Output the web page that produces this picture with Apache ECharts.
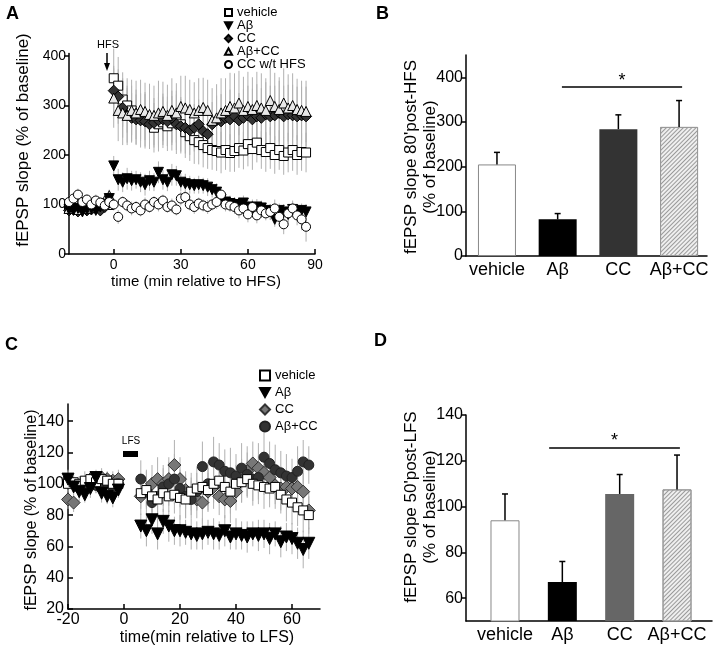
<!DOCTYPE html>
<html><head><meta charset="utf-8">
<script src="https://cdn.jsdelivr.net/npm/echarts@6/dist/echarts.min.js"></script>
<style>html,body{margin:0;padding:0;background:#fff}#c{width:720px;height:650px}</style>
</head><body><div id="c"></div>
<script>
// ---------- Panel A (HFS time course) ----------
const timeA = [-20,-18,-16,-14,-12,-10,-8,-6,-4,-2,0,2,4,6,8,10,12,14,16,18,20,22,24,26,28,30,32,34,36,38,40,42,44,46,48,50,52,54,56,58,60,62,64,66,68,70,72,74,76,78,80,82,84,86];
const vehicleA = [100,98,102,99,101,100,97,103,100,99,
  355,340,312,300,290,282,276,272,268,255,262,266,258,264,270,262,246,238,230,226,220,214,210,208,205,210,204,208,214,209,222,212,225,210,206,214,200,210,198,205,210,200,206,205];
const vehicleErrA = [12,10,12,10,11,10,12,10,11,10,
  60,58,55,55,50,50,48,55,52,50,55,52,50,55,60,55,52,50,48,45,45,42,40,40,42,40,38,42,40,38,45,42,40,38,40,42,38,40,38,40,42,40,38,40];
const abA = [90,88,92,85,90,92,88,95,100,112,
  178,150,145,152,148,150,145,140,148,145,165,150,145,160,158,145,142,140,138,140,138,135,130,125,110,105,102,100,98,103,95,92,95,93,88,85,70,88,85,80,90,85,88,85];
const abErrA = [8,8,8,8,8,8,8,8,10,10,
  20,22,20,22,20,18,20,22,20,18,22,20,18,22,20,18,20,18,16,18,16,18,16,18,16,15,16,15,16,15,14,15,16,15,14,16,15,14,16,15,14,15,14,16];
const ccA = [88,90,86,92,88,90,92,88,95,105,
  330,318,295,280,275,272,270,268,262,265,270,272,268,275,262,258,255,250,255,262,248,242,262,270,268,275,272,278,270,275,280,272,278,275,282,278,280,285,278,282,280,278,280,278];
const ccErrA = [10,10,10,10,10,10,10,10,12,12,
  50,55,60,55,50,50,55,55,50,50,55,52,50,55,60,55,52,50,48,50,45,42,45,50,55,55,60,60,55,58,60,62,65,60,65,62,60,65,62,60,62,60,58,60];
const abccA = [92,95,90,95,92,95,98,100,108,118,
  315,290,285,280,290,285,292,288,282,280,285,288,280,290,285,298,295,292,285,290,296,290,270,275,285,290,298,295,305,290,298,292,300,295,290,310,298,292,305,295,300,292,290,288];
const abccErrA = [10,10,12,10,10,12,10,12,12,12,
  60,62,65,60,62,65,60,58,62,60,65,60,62,65,60,62,65,60,62,65,60,62,65,68,70,65,68,70,65,68,70,65,68,70,65,70,68,65,70,68,65,62,60,62];
const ccNoHfsA = [105,112,120,105,110,100,108,104,98,105,
  100,75,105,98,92,95,88,100,95,105,100,108,95,98,90,112,115,100,95,102,98,95,100,105,120,100,98,95,88,92,80,95,78,88,82,85,92,75,60,82,92,78,70,55];
const ccNoHfsErrA = [10,10,12,10,10,10,12,10,10,10,
  12,14,12,12,14,12,12,14,12,12,14,12,12,14,12,14,12,12,14,12,12,14,12,14,12,14,12,14,16,14,16,15,16,15,14,16,18,16,20,18,16,20,22,30];

// ---------- Panel B (80' post-HFS) ----------
const barCats = ['vehicle','Aβ','CC','Aβ+CC'];
const barB = [205, 82, 284, 289];
const barErrB = [27, 13, 32, 59];

// ---------- Panel C (LFS time course) ----------
const timeC = [-20,-18,-16,-14,-12,-10,-8,-6,-4,-2,6,8,10,12,14,16,18,20,22,24,26,28,30,32,34,36,38,40,42,44,46,48,50,52,54,56,58,60,62,64,66];
const vehicleC = [100,101,100,102,103,101,103,102,100,100,
  94,96,92,90,94,92,93,91,90,95,97,98,96,100,102,98,95,100,101,103,100,99,98,97,98,93,90,88,85,83,80];
const vehicleErrC = [5,5,5,6,5,5,6,5,5,5,
  10,12,10,12,12,10,12,14,12,12,14,12,14,12,14,12,14,12,13,12,14,12,14,12,14,12,14,14,12,14,12];
const abC = [103,98,95,93,97,104,94,92,91,96,
  73,70,77,68,76,73,70,70,69,68,67,68,69,68,67,70,66,68,67,66,68,67,68,65,68,63,66,65,62,58,62];
const abErrC = [6,5,6,5,6,5,6,5,6,5,
  8,10,9,10,8,10,9,10,8,10,9,10,8,10,9,10,8,10,9,10,8,10,9,10,8,10,9,10,10,12,10];
const ccC = [90,88,97,99,103,100,104,103,102,103,
  92,95,100,103,100,103,112,103,96,92,90,88,95,98,92,90,89,95,102,108,113,110,107,104,99,97,98,97,98,95,83];
const ccErrC = [6,6,6,6,5,6,6,5,6,6,
  12,14,12,14,12,14,16,14,12,12,12,14,12,14,12,12,14,12,14,16,14,16,14,14,12,14,12,12,14,12,12];
const abccC = [103,100,98,100,102,99,97,100,98,100,
  103,95,88,92,98,100,103,97,92,90,95,111,100,114,112,108,107,105,110,106,103,104,117,113,109,107,105,104,108,114,112];
const abccErrC = [5,5,5,5,5,5,5,5,5,5,
  12,10,12,14,12,14,16,12,14,12,12,16,14,16,14,14,16,14,16,14,14,14,16,14,16,14,14,12,16,14,12];

// ---------- Panel D (50' post-LFS) ----------
const barD = [94, 67, 105.5, 107.5];
const barErrD = [11.5, 9, 8.5, 15];

// ---------- tick labels ----------
const ticksAx = [0, 30, 60, 90];
const ticksAy = [0, 100, 200, 300, 400];
const ticksBy = [0, 100, 200, 300, 400];
const ticksCx = [-20, 0, 20, 40, 60];
const ticksCy = [20, 40, 60, 80, 100, 120, 140];
const ticksDy = [60, 80, 100, 120, 140];

const FONT = 'Liberation Sans, Arial, sans-serif';
const DOWN = 'path://M0,0 L10,0 L5,9 Z';
const UP = 'path://M5,0 L10,9 L0,9 Z';

function pts(t, v, e) { return t.map((x, i) => [x, v[i], e[i]]); }
function errRender(color) {
  return function (params, api) {
    const x = api.value(0), y = api.value(1), e = api.value(2);
    const lo = api.coord([x, y - e]), hi = api.coord([x, y + e]);
    return { type: 'line', shape: { x1: lo[0], y1: lo[1], x2: hi[0], y2: hi[1] }, style: { stroke: color, lineWidth: 1 } };
  };
}
function barErrRender(params, api) {
  const x = api.value(0), y = api.value(1), e = api.value(2);
  const lo = api.coord([x, y]), hi = api.coord([x, y + e]);
  return { type: 'group', children: [
    { type: 'line', shape: { x1: lo[0], y1: lo[1], x2: hi[0], y2: hi[1] }, style: { stroke: '#000', lineWidth: 1.5 } },
    { type: 'line', shape: { x1: hi[0] - 3, y1: hi[1], x2: hi[0] + 3, y2: hi[1] }, style: { stroke: '#000', lineWidth: 1.5 } }
  ]};
}
function axis(o) {
  return {
    type: 'value', gridIndex: o.grid, min: o.min, max: o.max,
    axisLine: { onZero: false, lineStyle: { color: '#000', width: 1.5 } },
    axisTick: o.ticks ? { show: true, inside: !!o.inside, length: 5, lineStyle: { color: '#000', width: 1.5 }, customValues: o.ticks } : { show: false },
    axisLabel: o.cats
      ? { color: '#000', fontFamily: FONT, fontSize: o.fs, margin: 5, customValues: [1, 2, 3, 4], formatter: v => barCats[Math.round(v) - 1] || '' }
      : { color: '#000', fontFamily: FONT, fontSize: o.fs, margin: o.margin == null ? 3 : o.margin, customValues: o.ticks },
    splitLine: { show: false }
  };
}

const hatch = { symbol: 'rect', symbolSize: 1, dashArrayX: [1, 0], dashArrayY: [1, 2], rotation: -Math.PI / 4, color: '#9a9a9a' };

const scatterA = [
  { name: 'vehicle', v: vehicleA, e: vehicleErrA, symbol: 'rect', size: 9, color: '#fff', border: '#000' },
  { name: 'CC', v: ccA, e: ccErrA, symbol: 'diamond', size: 11, color: '#333', border: '#000' },
  { name: 'Aβ+CC', v: abccA, e: abccErrA, symbol: UP, size: 10, color: '#e8e8e8', border: '#000' },
  { name: 'Aβ', v: abA, e: abErrA, symbol: DOWN, size: 10, color: '#000', border: '#000' },
  { name: 'CC w/t HFS', v: ccNoHfsA, e: ccNoHfsErrA, symbol: 'circle', size: 9, color: '#fff', border: '#000' }
];
const scatterC = [
  { name: 'CC ', v: ccC, e: ccErrC, symbol: 'diamond', size: 13, color: '#777', border: '#333' },
  { name: 'Aβ+CC ', v: abccC, e: abccErrC, symbol: 'circle', size: 10, color: '#333', border: '#222' },
  { name: 'vehicle ', v: vehicleC, e: vehicleErrC, symbol: 'rect', size: 9, color: '#fff', border: '#000' },
  { name: 'Aβ ', v: abC, e: abErrC, symbol: DOWN, size: 12, color: '#000', border: '#000' }
];

const series = [];
function addScatter(list, t, idx) {
  list.forEach(s => series.push({ type: 'custom', xAxisIndex: idx, yAxisIndex: idx, silent: true, z: 1,
    renderItem: errRender('#b0b0b0'), encode: { x: 0, y: 1 }, data: pts(t, s.v, s.e) }));
  list.forEach(s => series.push({ type: 'scatter', name: s.name, xAxisIndex: idx, yAxisIndex: idx, z: 3,
    symbol: s.symbol, symbolSize: s.size, data: pts(t, s.v, s.e),
    itemStyle: { color: s.color, borderColor: s.border, borderWidth: 1, opacity: 1 } }));
}
addScatter(scatterA, timeA, 0);
addScatter(scatterC, timeC, 2);

function addBars(vals, errs, idx, width, styles, sig) {
  series.push({ type: 'bar', xAxisIndex: idx, yAxisIndex: idx, barWidth: width, z: 2,
    data: vals.map((v, i) => ({ value: [i + 1, v], itemStyle: styles[i] })),
    markLine: { silent: true, symbol: ['none', 'none'], lineStyle: { color: '#000', width: 1.5, type: 'solid' },
      label: { show: true, position: 'middle', formatter: '*', color: '#000', fontSize: 18, fontFamily: FONT, distance: -3 },
      data: [[{ coord: [sig[0], sig[2]] }, { coord: [sig[1], sig[2]] }]] } });
  series.push({ type: 'custom', xAxisIndex: idx, yAxisIndex: idx, silent: true, z: 3, renderItem: barErrRender,
    encode: { x: 0, y: 1 }, data: vals.map((v, i) => [i + 1, v, errs[i]]) });
}
addBars(barB, barErrB, 1, 38, [
  { color: '#fff', borderColor: '#888', borderWidth: 1 },
  { color: '#000' },
  { color: '#333' },
  { color: '#efefef', borderColor: '#999', borderWidth: 1, decal: hatch }
], [2.07, 4.05, 378]);
addBars(barD, barErrD, 3, 29, [
  { color: '#fff', borderColor: '#888', borderWidth: 1 },
  { color: '#000' },
  { color: '#666' },
  { color: '#efefef', borderColor: '#999', borderWidth: 1, decal: hatch }
], [1.77, 4.05, 125.8]);

const option = {
  animation: false,
  backgroundColor: '#fff',
  grid: [
    { left: 69, top: 53.5, width: 246, height: 200.5 },
    { left: 466, top: 55, width: 241, height: 201 },
    { left: 68, top: 404, width: 252, height: 205 },
    { left: 466, top: 415, width: 246, height: 206 }
  ],
  xAxis: [
    axis({ grid: 0, min: -20, max: 90, ticks: ticksAx, inside: true, fs: 14, margin: 4 }),
    axis({ grid: 1, min: 0.49, max: 4.46, cats: true, fs: 18 }),
    axis({ grid: 2, min: -20, max: 70, ticks: ticksCx, inside: true, fs: 16, margin: 3 }),
    axis({ grid: 3, min: 0.32, max: 4.61, cats: true, fs: 18 })
  ],
  yAxis: [
    axis({ grid: 0, min: 0, max: 405, ticks: ticksAy, fs: 14 }),
    axis({ grid: 1, min: 0, max: 450, ticks: ticksBy, fs: 16 }),
    axis({ grid: 2, min: 20, max: 151, ticks: ticksCy, inside: true, fs: 16, margin: 4 }),
    axis({ grid: 3, min: 50, max: 140, ticks: ticksDy, fs: 16 })
  ],
  legend: [
    { orient: 'vertical', left: 224, top: 6, itemWidth: 7, itemHeight: 7, itemGap: 0, selectedMode: false, padding: 0,
      textStyle: { fontFamily: FONT, fontSize: 13, color: '#000', lineHeight: 13 },
      data: ['vehicle', 'Aβ', 'CC', 'Aβ+CC', 'CC w/t HFS'] },
    { orient: 'vertical', left: 259, top: 369, itemWidth: 10, itemHeight: 10, itemGap: 4, selectedMode: false, padding: 0,
      textStyle: { fontFamily: FONT, fontSize: 13, color: '#000', lineHeight: 13 },
      formatter: n => n.trim(),
      data: ['vehicle ', 'Aβ ', 'CC ', 'Aβ+CC '] }
  ],
  graphic: [
    { type: 'text', left: 6, top: 5, style: { text: 'A', font: 'bold 18px ' + FONT, fill: '#000' } },
    { type: 'text', left: 376, top: 5, style: { text: 'B', font: 'bold 18px ' + FONT, fill: '#000' } },
    { type: 'text', left: 5, top: 336, style: { text: 'C', font: 'bold 18px ' + FONT, fill: '#000' } },
    { type: 'text', left: 374, top: 332, style: { text: 'D', font: 'bold 18px ' + FONT, fill: '#000' } },
    // axis titles
    { type: 'text', x: 23, y: 140, rotation: Math.PI / 2, style: { text: 'fEPSP slope (% of baseline)', font: '17px ' + FONT, fill: '#000', align: 'center', verticalAlign: 'middle' } },
    { type: 'text', x: 196, y: 282, style: { text: 'time (min relative to HFS)', font: '15px ' + FONT, fill: '#000', align: 'center', verticalAlign: 'middle' } },
    { type: 'text', x: 411, y: 157, rotation: Math.PI / 2, style: { text: "fEPSP slope 80'post-HFS", font: '17px ' + FONT, fill: '#000', align: 'center', verticalAlign: 'middle' } },
    { type: 'text', x: 430, y: 157, rotation: Math.PI / 2, style: { text: '(% of baseline)', font: '17px ' + FONT, fill: '#000', align: 'center', verticalAlign: 'middle' } },
    { type: 'text', x: 32, y: 510, rotation: Math.PI / 2, style: { text: 'fEPSP slope (% of baseline)', font: '16px ' + FONT, fill: '#000', align: 'center', verticalAlign: 'middle' } },
    { type: 'text', x: 207, y: 638, style: { text: 'time(min relative to LFS)', font: '16px ' + FONT, fill: '#000', align: 'center', verticalAlign: 'middle' } },
    { type: 'text', x: 411, y: 507, rotation: Math.PI / 2, style: { text: "fEPSP slope 50'post-LFS", font: '17px ' + FONT, fill: '#000', align: 'center', verticalAlign: 'middle' } },
    { type: 'text', x: 430, y: 507, rotation: Math.PI / 2, style: { text: '(% of baseline)', font: '17px ' + FONT, fill: '#000', align: 'center', verticalAlign: 'middle' } },
    // HFS annotation
    { type: 'text', x: 108, y: 45, style: { text: 'HFS', font: '11px ' + FONT, fill: '#000', align: 'center', verticalAlign: 'middle' } },
    { type: 'line', shape: { x1: 107, y1: 53, x2: 107, y2: 66 }, style: { stroke: '#000', lineWidth: 1.5 } },
    { type: 'polygon', shape: { points: [[104, 63], [110, 63], [107, 71]] }, style: { fill: '#000' } },
    // LFS annotation
    { type: 'text', x: 131, y: 441, style: { text: 'LFS', font: '10px ' + FONT, fill: '#000', align: 'center', verticalAlign: 'middle' } },
    { type: 'rect', shape: { x: 123, y: 451, width: 15, height: 6 }, style: { fill: '#000' } }
  ],
  series: series
};
const chart = echarts.init(document.getElementById('c'), null, { renderer: 'canvas' });
chart.setOption(option);
</script></body></html>
